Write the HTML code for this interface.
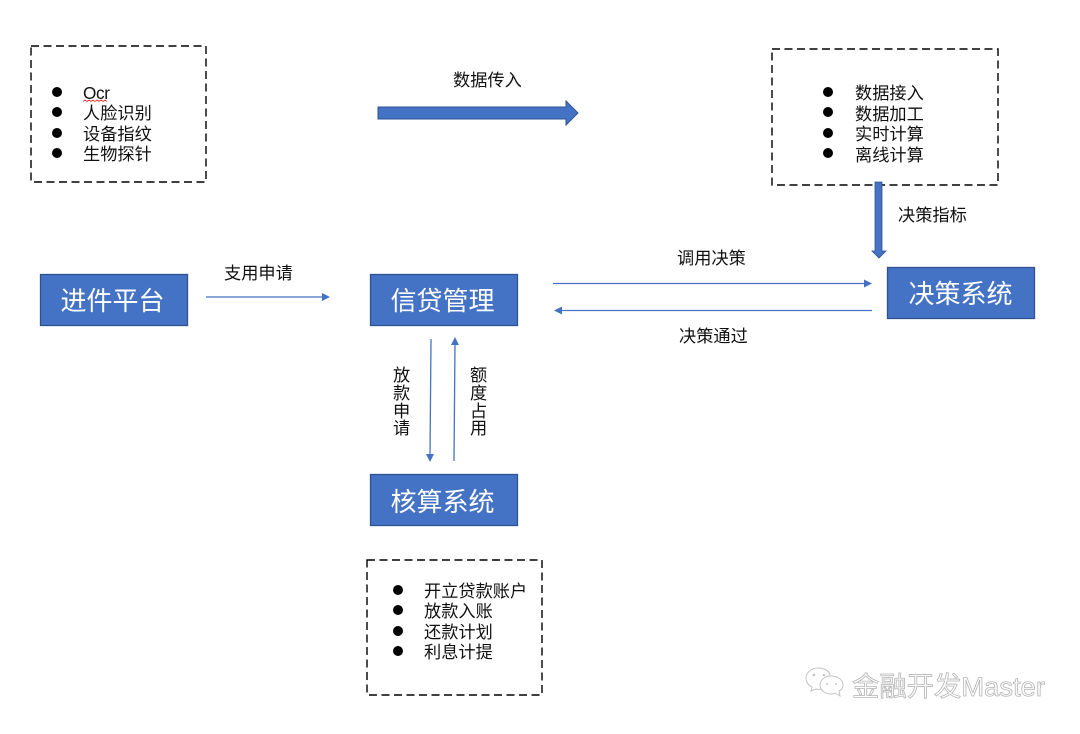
<!DOCTYPE html>
<html><head><meta charset="utf-8">
<style>
html,body{margin:0;padding:0;background:#fff}
svg{display:block}
text{font-family:"Liberation Sans","Noto Sans CJK SC",sans-serif}
.t{font-size:17.2px;fill:#111}
.w{font-size:26px;fill:#fff;text-anchor:middle}
.box{fill:#4472c4;stroke:#2f528f;stroke-width:1.3}
.d{fill:none;stroke:#000;stroke-width:1.4;stroke-dasharray:8 4.500}
.l{stroke:#4472c4;stroke-width:1.3;fill:none}
.a{fill:#4472c4}
</style></head><body>
<svg width="1080" height="734" viewBox="0 0 1080 734" xmlns="http://www.w3.org/2000/svg">
<rect width="1080" height="734" fill="#fff"/>

<rect class="d" x="31" y="46" width="175" height="136"/>
<circle cx="57" cy="92" r="5"/><circle cx="57" cy="112" r="5"/><circle cx="57" cy="133" r="5"/><circle cx="57" cy="153" r="5"/>
<text class="t" x="83" y="99" textLength="27">Ocr</text>
<path d="M83 101.500l2 -1.500 2 1.500 2 -1.500 2 1.500 2 -1.500 2 1.500 2 -1.500 2 1.500 2 -1.500 2 1.500 2 -1.500 2 1.500" fill="none" stroke="#e33" stroke-width="0.8"/>
<text class="t" x="83" y="119">人脸识别</text>
<text class="t" x="83" y="140">设备指纹</text>
<text class="t" x="83" y="160">生物探针</text>

<text class="t" x="453" y="86">数据传入</text>
<polygon points="378,107 566,107 566,101 578,113 566,125 566,119 378,119" fill="#4472c4" stroke="#2f528f" stroke-width="1"/>

<rect class="d" x="772" y="49" width="226" height="136"/>
<circle cx="828" cy="92" r="5"/><circle cx="828" cy="112" r="5"/><circle cx="828" cy="133" r="5"/><circle cx="828" cy="153" r="5"/>
<text class="t" x="855" y="99">数据接入</text>
<text class="t" x="855" y="120">数据加工</text>
<text class="t" x="855" y="140">实时计算</text>
<text class="t" x="855" y="161">离线计算</text>

<polygon points="875,182 882,182 882,251 886,251 879,258 872,251 875,251" fill="#4472c4" stroke="#2f528f" stroke-width="0.8"/>
<text class="t" x="898" y="221">决策指标</text>

<rect class="box" x="40.500" y="274.500" width="147" height="51"/>
<text class="w" x="112.500" y="310">进件平台</text>
<rect class="box" x="370.500" y="274.500" width="147" height="51"/>
<text class="w" x="442.500" y="310">信贷管理</text>
<rect class="box" x="887.500" y="267.500" width="147" height="51"/>
<text class="w" x="960.500" y="303">决策系统</text>
<rect class="box" x="370.500" y="474.500" width="147" height="51"/>
<text class="w" x="442.500" y="511">核算系统</text>

<line class="l" x1="206" y1="297" x2="324" y2="297"/>
<polygon class="a" points="322,293 330,297 322,301"/>
<text class="t" x="224" y="279">支用申请</text>

<line class="l" x1="553" y1="283.500" x2="866" y2="283.500"/>
<polygon class="a" points="864,279.500 872,283.500 864,287.500"/>
<text class="t" x="677" y="264">调用决策</text>

<line class="l" x1="560" y1="310.500" x2="872" y2="310.500"/>
<polygon class="a" points="562,306.500 554,310.500 562,314.500"/>
<text class="t" x="679" y="342">决策通过</text>

<line class="l" x1="431" y1="339" x2="430" y2="456"/>
<polygon class="a" points="426,454 434,454 430,462"/>
<line class="l" x1="454" y1="461" x2="455" y2="343"/>
<polygon class="a" points="451,345 459,345 455,337"/>
<text class="t" x="393" y="381">放</text>
<text class="t" x="393" y="399">款</text>
<text class="t" x="393" y="417">申</text>
<text class="t" x="393" y="434">请</text>
<text class="t" x="470" y="381">额</text>
<text class="t" x="470" y="399">度</text>
<text class="t" x="470" y="417">占</text>
<text class="t" x="470" y="434">用</text>

<rect class="d" x="367" y="560" width="175" height="135"/>
<circle cx="398" cy="590" r="5"/><circle cx="398" cy="610" r="5"/><circle cx="398" cy="631" r="5"/><circle cx="398" cy="651" r="5"/>
<text class="t" x="424" y="597">开立贷款账户</text>
<text class="t" x="424" y="617">放款入账</text>
<text class="t" x="424" y="638">还款计划</text>
<text class="t" x="424" y="658">利息计提</text>

<g fill="#fff" stroke="#c4c4c4" stroke-width="1">
<path d="M818 668c-7 0-12 5-12 10 0 4 2 7 6 9l-1 4 5-2c2 0 4 1 6 0l8-15c-2-4-7-6-12-6z"/>
<path d="M831 676c-6 0-11 4-11 9s5 9 11 9c2 0 3 0 4-1l5 3-1-5c3-1 4-4 4-6 0-5-5-9-12-9z"/>
</g>
<g fill="#c4c4c4"><circle cx="814" cy="675" r="1.300"/><circle cx="824" cy="675" r="1.300"/><circle cx="827" cy="684" r="1"/><circle cx="836" cy="684" r="1"/></g>
<text x="852" y="696" font-size="27" textLength="193" lengthAdjust="spacingAndGlyphs" fill="#fff" stroke="#b5b5b5" stroke-width="0.8">金融开发Master</text>
</svg>
</body></html>
